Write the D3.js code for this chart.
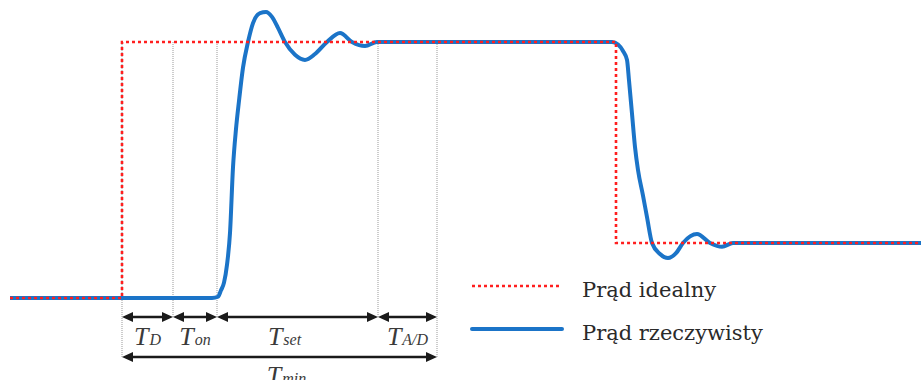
<!DOCTYPE html>
<html>
<head>
<meta charset="utf-8">
<script src="https://cdn.jsdelivr.net/npm/d3@7"></script>
<style>
  body { margin: 0; background: #fff; }
  svg { display: block; }
</style>
</head>
<body>
<div id="chart"></div>
<script>
// ideal current (step) and the real current with overshoot
const idealT = [10, 122, 122, 616, 616, 921];
const idealI = [0, 0, 1, 1, 0.215, 0.215];

const realT = [10, 212, 218, 221, 224, 227, 230, 233, 236, 239, 243, 248, 253, 260, 266, 272, 278, 285, 295, 305, 315, 327, 340, 352, 365, 377,
               612, 618, 623, 627, 629, 632, 635, 638, 643, 647, 652, 660, 668, 676, 683, 697, 710, 722, 733, 921];
const realI = [0, 0, 0.005, 0.03, 0.06, 0.13, 0.254, 0.51, 0.66, 0.77, 0.9, 1.0, 1.074, 1.113, 1.117, 1.098, 1.055, 1.0, 0.95, 0.93, 0.953, 1.0, 1.035, 1.0, 0.984, 1.0,
               1.0, 0.99, 0.965, 0.93, 0.85, 0.72, 0.59, 0.5, 0.4, 0.316, 0.215, 0.172, 0.156, 0.175, 0.215, 0.25, 0.215, 0.2, 0.215, 0.215];

// time marks bounding the intervals
const markT = [122, 173, 217, 378, 437];
const intervalSubs = ["D", "on", "set", "A/D"];
const totalSub = "min";
const seriesNames = ["Prąd idealny", "Prąd rzeczywisty"];

const width = 921, height = 380;
const blue = "#1b74c8", red = "#ff1f1f", ink = "#1a1a1a";

const svg = d3.select("#chart").append("svg")
    .attr("width", width)
    .attr("height", height);

const x = d3.scaleLinear().domain([0, 921]).range([0, 921]);
const y = d3.scaleLinear().domain([0, 1]).range([298, 42]);

const rowY = 317, totalY = 357;

// dotted guides
svg.selectAll("line.guide")
    .data(markT)
    .join("line")
    .attr("class", "guide")
    .attr("x1", d => x(d)).attr("x2", d => x(d))
    .attr("y1", y(1))
    .attr("y2", (d, i) => (i === 0 || i === markT.length - 1) ? totalY : rowY)
    .attr("stroke", "#999")
    .attr("stroke-width", 1)
    .attr("stroke-dasharray", "1,1");

const realLine = d3.line()
    .x((d, i) => x(realT[i]))
    .y(d => y(d))
    .curve(d3.curveMonotoneX);

svg.append("path")
    .attr("d", realLine(realI))
    .attr("fill", "none")
    .attr("stroke", blue)
    .attr("stroke-width", 4)
    .attr("stroke-linejoin", "round");

const idealLine = d3.line()
    .x((d, i) => x(idealT[i]))
    .y(d => y(d));

svg.append("path")
    .attr("d", idealLine(idealI))
    .attr("fill", "none")
    .attr("stroke", red)
    .attr("stroke-width", 2.6)
    .attr("stroke-dasharray", "3,3");

// double arrows
function arrow(a, b, yy) {
    const xa = x(a), xb = x(b), L = 11, H = 5;
    svg.append("line")
        .attr("x1", xa + 4).attr("x2", xb - 4)
        .attr("y1", yy).attr("y2", yy)
        .attr("stroke", ink).attr("stroke-width", 2.6);
    svg.append("path")
        .attr("d", `M${xa},${yy}L${xa + L},${yy - H}L${xa + L},${yy + H}Z M${xb},${yy}L${xb - L},${yy - H}L${xb - L},${yy + H}Z`)
        .attr("fill", ink);
}

const segs = d3.pairs(markT);
segs.forEach(([a, b]) => arrow(a, b, rowY));
arrow(markT[0], markT[markT.length - 1], totalY);

function tLabel(cx, by, sub) {
    const t = svg.append("text")
        .attr("x", cx).attr("y", by)
        .attr("text-anchor", "middle")
        .attr("font-family", "'Liberation Serif', serif")
        .attr("font-style", "italic")
        .attr("fill", "#3a3a3a");
    t.append("tspan").attr("font-size", 26).text("T");
    t.append("tspan").attr("font-size", 16).attr("dx", 1).text(sub);
}

const labelShift = { "set": -13 };
segs.forEach(([a, b], i) => {
    const s = intervalSubs[i];
    tLabel((x(a) + x(b)) / 2 + (labelShift[s] || 0), 345, s);
});
tLabel((x(markT[0]) + x(markT[markT.length - 1])) / 2 + 7, 384, totalSub);

// legend
const legend = svg.append("g");
const legY = [286, 329];
legend.selectAll("line")
    .data(seriesNames)
    .join("line")
    .attr("x1", 472).attr("x2", 562)
    .attr("y1", (d, i) => legY[i]).attr("y2", (d, i) => legY[i])
    .attr("stroke", (d, i) => i === 0 ? red : blue)
    .attr("stroke-width", (d, i) => i === 0 ? 2.6 : 4)
    .attr("stroke-dasharray", (d, i) => i === 0 ? "3,3" : null)
    .attr("stroke-linecap", (d, i) => i === 0 ? "butt" : "round");

legend.selectAll("text")
    .data(seriesNames)
    .join("text")
    .attr("x", 582)
    .attr("y", (d, i) => legY[i] + 11)
    .attr("font-family", "'DejaVu Serif', serif")
    .attr("font-size", 21)
    .attr("fill", "#2a2a2a")
    .text(d => d);
</script>
</body>
</html>
